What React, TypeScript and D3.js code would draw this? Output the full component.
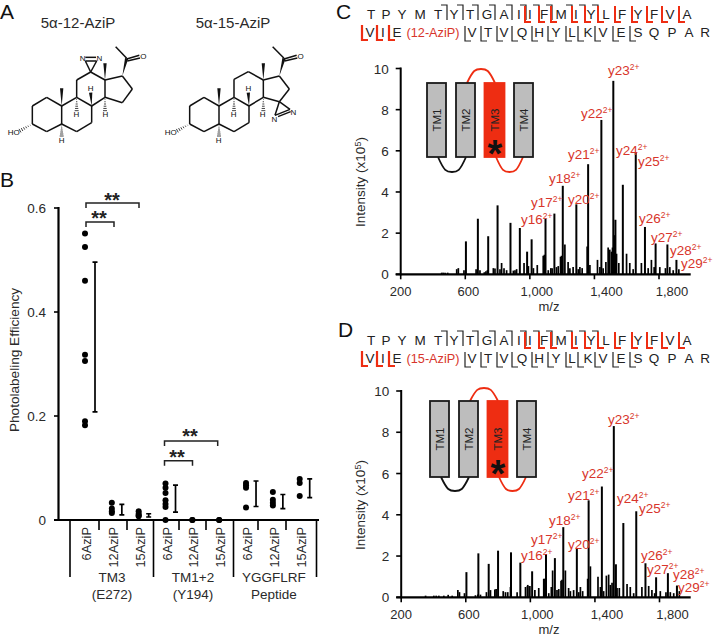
import React from "react";
import * as d3 from "d3";

// ---------- Panel B data ----------
const groupLabels = ["6AziP","12AziP","15AziP","6AziP","12AziP","15AziP","6AziP","12AziP","15AziP"];
const groupTitles = [["TM3","(E272)"],["TM1+2","(Y194)"],["YGGFLRF","Peptide"]];
const efficiency = [
  [0.551,0.525,0.46,0.318,0.306,0.19,0.182],
  [0.033,0.022,0.017,0.0135],
  [0.0167,0.012,0.009,0.007],
  [0.07,0.062,0.052,0.038,0.031,0.025,0],
  [0,0],
  [0,0],
  [0.071,0.067,0.062,0.024],
  [0.054,0.039,0.033,0.028],
  [0.079,0.071,0.046],
];
const errTop = [0.496,0.03,0.012,0.067,null,null,0.075,0.049,0.079];
const errBottom = [0.208,0.01,0.0058,0.015,null,null,0.026,0.022,0.043];

// ---------- Spectrum data: m/z, intensity ----------
const mainMz = [604,678,742,800,880,938,983,1011,1097,1152,1204,1288,1361,1443,1517,1530,1576,1656,1713,1779,1852,1908];
const mainC = [1.6,2.7,1.85,3.35,2.5,2.25,1.1,1.7,2.7,2.95,4.3,3.4,5.35,7.5,9.4,2.65,4.35,5.9,2.3,1.5,1.45,0.7];
const mainD = [1.22,2.13,1.62,2.26,2.18,1.68,0.55,1.26,2.1,1.9,3.4,2.35,4.7,5.37,8.3,1.6,3.6,4.17,1.65,0.97,1.17,0.57];
const minorC: [number,number][] = [[454,.08],[464,.08],[475,.08],[491,.08],[547,.25],[557,.3],[592,.2],[667,.25],[691,.2],[718,.1],[728,.15],[737,.2],[774,.3],[784,.28],[815,.25],[825,.55],[840,.3],[856,.2],[898,.18],[908,.2],[918,.25],[964,.55],[991,.4],[1022,.3],[1046,.45],[1083,.9],[1090,.95],[1114,.2],[1130,.3],[1138,.3],[1165,.35],[1176,.4],[1190,.85],[1196,.9],[1217,1.45],[1237,.6],[1248,.3],[1268,.35],[1300,.25],[1310,.35],[1324,.3],[1355,1.35],[1372,.45],[1419,.7],[1434,.35],[1454,.3],[1471,.6],[1485,1.3],[1495,1.2],[1506,1.1],[1512,1.3],[1524,1.9],[1537,1.0],[1551,.55],[1599,1.0],[1619,.55],[1640,.25],[1691,.55],[1733,.3],[1753,.7],[1770,.35],[1805,.35],[1840,.3],[1867,.35],[1888,.2],[1923,.25]];
const minorD: [number,number][] = [[351,.08],[402,.08],[417,.08],[433,.08],[464,.08],[491,.12],[516,.08],[551,.35],[561,.25],[592,.2],[660,.1],[675,.13],[691,.13],[728,.25],[753,.35],[780,.38],[788,.4],[832,.3],[846,.25],[860,.25],[877,.5],[918,.25],[970,.5],[984,.6],[997,.55],[1028,.35],[1052,.45],[1083,.9],[1090,.9],[1114,.2],[1130,.5],[1138,1.3],[1165,.35],[1176,.4],[1190,.8],[1196,.85],[1217,1.3],[1237,.45],[1248,.3],[1268,.35],[1300,.25],[1310,.5],[1324,.3],[1355,.9],[1372,1.5],[1419,1.0],[1434,.5],[1454,.3],[1471,1.05],[1485,1.1],[1495,.6],[1506,.7],[1537,.45],[1551,.45],[1599,.65],[1619,.5],[1640,.2],[1691,.5],[1733,.55],[1753,.35],[1770,.2],[1805,.3],[1840,.25],[1867,.25],[1888,.2],[1923,.3]];
const mzTicks = [200,600,1000,1400,1800];
const mzTickLabels = ["200","600","1,000","1,400","1,800"];
const mzLabelNudge = [0,3,7,12,13];
const intensityTicks = [0,2,4,6,8,10];

type Lab = [string,number,number];
const labelsC: Lab[] = [["y23",608,75],["y22",581,118],["y21",568,159],["y24",616,155],["y25",638,166],["y18",549,183],["y17",531,207],["y20",568,204],["y16",521,224],["y26",639,223],["y27",651,242],["y28",670,255],["y29",681,268]];
const labelsD: Lab[] = [["y23",608,424],["y22",582,478],["y21",568,500],["y24",617,503],["y25",639,513],["y18",549,525],["y17",531,544],["y20",568,549],["y16",521,560],["y26",641,560],["y27",647,574],["y28",673,579],["y29",678,592]];

// ---------- Sequence ----------
const seqRow1 = "TPYMTYTGAIIFMIYLFYFVA".split("");
const seqRow1X = [371,386,402,420,438,454,470,487,504,519,530,544,561,576,591,606,622,638,654,670,687];
const seqRow2a = "VIE".split("");
const seqRow2aX = [370,383,397];
const seqRow2b = "VTVQHYLKVESQPAR".split("");
const seqRow2bX = [472,488,504,522,539,556,572,588,603,621,638,654,672,689,705];
const topBlack = [447,463,478,495,512,526,539,552,572,585,598];
const topRed = [525,539,551,572,585,598,615,632,647,662,679];
const botRed = [362,377,389];
const botBlack = [465,481,497,512,532,548,566,578,595,613,630];

const RED = "#d8352b";
const BRIGHT = "#ee2d12";
const INK = "#2a2a2a";
const SANS = "'Liberation Sans', Arial, sans-serif";

// ---------- Chemical structures (image units: 1/3 px) ----------
type Seg = [number,number,number,number];
const sharedBonds: Seg[] = [[97,318,140,292],[140,292,185,318],[185,318,185,372],[185,372,140,395],[140,395,97,372],[97,372,97,318],[185,318,230,292],[230,292,275,318],[275,318,275,368],[275,368,230,395],[230,395,185,372]];
const bonds12: Seg[] = [[230,292,230,240],[230,240,272,216],[272,216,315,240],[315,240,315,292],[315,292,275,318],[315,240,367,228],[367,228,397,267],[397,267,367,308],[367,308,315,292],[380,175,347,140],[272,216,256,183],[272,216,290,183],[256,183,290,183],[256,172,288,172],[380,177,418,166],[382,183,420,174]];
const bonds15: Seg[] = [[230,292,230,238],[230,238,273,215],[273,215,318,240],[318,240,318,292],[318,292,275,318],[318,240,366,228],[366,228,396,267],[396,267,366,305],[366,305,318,292],[380,175,346,140],[366,305,398,328],[366,305,353,346],[353,346,398,328],[362,350,400,335],[380,177,418,166],[382,183,420,174]];
const wedges12: Seg[] = [[185,318,185,265],[315,240,315,190],[367,228,380,175],[275,318,272,278]];
const wedges15: Seg[] = [[185,318,185,265],[318,240,318,190],[366,228,380,175],[275,318,273,278]];
const hashes12: Seg[] = [[230,292,230,332],[315,292,315,332],[185,372,185,408],[97,372,60,392]];
const hashes15: Seg[] = [[230,292,230,332],[318,292,318,332],[185,372,185,408],[97,372,60,392]];
type Atom = [string,number,number];
const atoms12: Atom[] = [["HO",41,395],["H",185,420],["H",229,343],["H",272,265],["H",316,343],["N",248,173],["N",298,173],["O",430,168]];
const atoms15: Atom[] = [["HO",40,395],["H",184,420],["H",229,343],["H",273,265],["H",316,343],["N",351,358],["N",408,335],["O",430,168]];

function Molecule({dx,bonds,wedges,hashes,atoms}:{dx:number;bonds:Seg[];wedges:Seg[];hashes:Seg[];atoms:Atom[]}){
  const s=(v:number)=>v/3;
  const wedgePts=([x1,y1,x2,y2]:Seg,w:number)=>{
    const L=Math.hypot(x2-x1,y2-y1), nx=-(y2-y1)/L, ny=(x2-x1)/L;
    return {L,nx,ny,x1,y1,x2,y2,w};
  };
  return <g transform={`translate(${dx/3},0)`}>
    {[...sharedBonds,...bonds].map((b,i)=><line key={i} x1={s(b[0])} y1={s(b[1])} x2={s(b[2])} y2={s(b[3])} stroke="#111" strokeWidth={1.5}/>)}
    {wedges.map((b,i)=>{const g=wedgePts(b,5);return <polygon key={i} fill="#111" points={`${s(g.x1)},${s(g.y1)} ${s(g.x2+g.nx*g.w)},${s(g.y2+g.ny*g.w)} ${s(g.x2-g.nx*g.w)},${s(g.y2-g.ny*g.w)}`}/>;})}
    {hashes.map((b,i)=>{const g=wedgePts(b,6);return <g key={i}>{d3.range(1,7).map(k=>{const t=k/6;const cx=g.x1+(g.x2-g.x1)*t,cy=g.y1+(g.y2-g.y1)*t,h=g.w*t;return <line key={k} x1={s(cx+g.nx*h)} y1={s(cy+g.ny*h)} x2={s(cx-g.nx*h)} y2={s(cy-g.ny*h)} stroke="#111" strokeWidth={0.8}/>;})}</g>;})}
    {atoms.map((a,i)=><text key={i} x={s(a[1])} y={s(a[2])+3} textAnchor="middle" fontSize={8} fontFamily={SANS} fill="#111" >{a[0]}</text>)}
  </g>;
}

function Sequence({dy,tag}:{dy:number;tag:string}){
  const T={fontFamily:SANS,fontSize:13.5,fill:"#222",textAnchor:"middle" as const};
  return <g transform={`translate(0,${dy})`}>
    {seqRow1.map((c,i)=><text key={i} x={seqRow1X[i]} y={19} {...T}>{c}</text>)}
    {seqRow2a.map((c,i)=><text key={i} x={seqRow2aX[i]} y={37} {...T}>{c}</text>)}
    <text x={433} y={37} textAnchor="middle" fontFamily={SANS} fontSize={12.7} fill={RED}>{tag}</text>
    {seqRow2b.map((c,i)=><text key={i} x={seqRow2bX[i]} y={37} {...T}>{c}</text>)}
    {topBlack.map((x,i)=><path key={i} d={`M${x-6},5H${x}V20`} fill="none" stroke="#222" strokeWidth={1.2}/>)}
    {topRed.map((x,i)=><path key={i} d={`M${x},6V22H${x+6}`} fill="none" stroke={BRIGHT} strokeWidth={2}/>)}
    {botBlack.map((x,i)=><path key={i} d={`M${x},26V41H${x+6}`} fill="none" stroke="#222" strokeWidth={1.2}/>)}
    {botRed.map((x,i)=><path key={i} d={`M${x},25V40H${x+6}`} fill="none" stroke={BRIGHT} strokeWidth={2.2}/>)}
  </g>;
}

function Topology({x0,top,bottom,loopTop,loopBottom}:{x0:number;top:number;bottom:number;loopTop:number;loopBottom:number}){
  const boxes=[["TM1",0],["TM2",29],["TM3",57.5],["TM4",87]] as [string,number][];
  const bx=(o:number)=>x0+o;
  const my=(top+bottom)/2;
  const loop=(a:number,b:number,yStart:number,yEnd:number,c:string)=>{
    const m=(a+b)/2, w=(b-a)/2;
    return <path d={`M${a},${yStart}C${a+w*0.45},${yEnd+(yStart-yEnd)*0.05} ${m-w*0.4},${yEnd} ${m},${yEnd}C${m+w*0.4},${yEnd} ${b-w*0.45},${yEnd+(yStart-yEnd)*0.05} ${b},${yStart}`} fill="none" stroke={c} strokeWidth={1.8}/>;
  };
  return <g>
    {loop(bx(40),bx(68),top,loopTop,BRIGHT)}
    {loop(bx(11),bx(39),bottom,loopBottom,"#111")}
    {loop(bx(69),bx(96),bottom,loopBottom,BRIGHT)}
    {boxes.map(([t,o])=><g key={t}>
      <rect x={bx(o)} y={top} width={t==="TM3"?20:19} height={bottom-top} fill={t==="TM3"?BRIGHT:"#bdbdbd"} stroke={t==="TM3"?BRIGHT:"#1a1a1a"} strokeWidth={1.8}/>
      <text transform={`translate(${bx(o)+(t==="TM3"?14.5:14)},${my}) rotate(-90)`} textAnchor="middle" fontFamily={SANS} fontSize={11.5} fill="#222">{t}</text>
    </g>)}
    <text x={bx(68)} y={bottom+9.5} textAnchor="middle" fontFamily={SANS} fontWeight="bold" fontSize={38} fill="#111">*</text>
  </g>;
}

function Spectrum({y0,y10,xLabelY,titleY,main,minor,labels,xShift}:{y0:number;y10:number;xLabelY:number;titleY:number;main:number[];minor:[number,number][];labels:Lab[];xShift:number}){
  const x=d3.scaleLinear().domain([200,1800]).range([400.7+xShift,659+xShift]);
  const y=d3.scaleLinear().domain([0,10]).range([y0,y10]);
  const axisEnd=690.7;
  return <g>
    {minor.map(([m,v],i)=><line key={"m"+i} x1={x(m)} x2={x(m)} y1={y0} y2={y(v)} stroke="#000" strokeWidth={1.7}/>)}
    {main.map((v,i)=><line key={"p"+i} x1={x(mainMz[i])} x2={x(mainMz[i])} y1={y0} y2={y(v)} stroke="#000" strokeWidth={2}/>)}
    <line x1={x(200)} x2={x(200)} y1={y(10)-1} y2={y0+1} stroke="#000" strokeWidth={2}/>
    <line x1={x(200)-5} x2={axisEnd} y1={y0} y2={y0} stroke="#000" strokeWidth={2.2}/>
    {intensityTicks.map(t=><g key={t}>
      <line x1={x(200)-5} x2={x(200)} y1={y(t)} y2={y(t)} stroke="#000" strokeWidth={1.6}/>
      <text x={x(200)-12} y={y(t)+5} textAnchor="end" fontFamily={SANS} fontSize={13.5} fill={INK}>{t}</text>
    </g>)}
    {mzTicks.map((t,i)=><g key={t}>
      <line x1={x(t)} x2={x(t)} y1={y0} y2={y0+5} stroke="#000" strokeWidth={1.6}/>
      <text x={x(t)+mzLabelNudge[i]} y={y0+22} textAnchor="middle" fontFamily={SANS} fontSize={13} fill={INK}>{mzTickLabels[i]}</text>
    </g>)}
    <text x={549} y={xLabelY} textAnchor="middle" fontFamily={SANS} fontSize={13} fill={INK}>m/z</text>
    <text transform={`translate(365,${titleY}) rotate(-90)`} textAnchor="middle" fontFamily={SANS} fontSize={13.5} fill={INK}>Intensity (x10<tspan dy={-4} fontSize={9}>5</tspan><tspan dy={4}>)</tspan></text>
    {labels.map(([t,lx,ly])=><text key={t} x={lx} y={ly} fontFamily={SANS} fontSize={13.5} fill={RED}>{t}<tspan dy={-5} fontSize={8.5}>2+</tspan></text>)}
  </g>;
}

function Stars({x,y}:{x:number;y:number}){
  return <text x={x} y={y+11} textAnchor="middle" fontFamily={SANS} fontSize={20} fontWeight="bold" fill="#222">**</text>;
}

function PanelB(){
  const y=d3.scaleLinear().domain([0,0.6]).range([520,208]);
  const x=d3.scaleLinear().domain([0,8]).range([85,299.7]);
  const dividers=[70,153.5,233.5,316.5];
  const minorTicks=[99,127,179,206,258,286];
  const groupX=[112,193,274];
  const bracket=(a:number,b:number,yy:number,h:number)=>`M${a},${yy+h}V${yy}H${b}V${yy+h}`;
  return <g>
    <line x1={58.5} x2={58.5} y1={207} y2={520} stroke="#000" strokeWidth={2.2}/>
    <line x1={54} x2={319} y1={520} y2={520} stroke="#000" strokeWidth={2.2}/>
    {[0,0.2,0.4,0.6].map(t=><g key={t}>
      <line x1={54} x2={58.5} y1={y(t)} y2={y(t)} stroke="#000" strokeWidth={1.6}/>
      <text x={46} y={y(t)+5} textAnchor="end" fontFamily={SANS} fontSize={13.5} fill={INK}>{t}</text>
    </g>)}
    <text transform="translate(19,360) rotate(-90)" textAnchor="middle" fontFamily={SANS} fontSize={13.6} fill={INK}>Photolabeling Efficiency</text>
    {dividers.map(d=><line key={d} x1={d} x2={d} y1={520} y2={577} stroke="#000" strokeWidth={1.6}/>)}
    {minorTicks.map(d=><line key={d} x1={d} x2={d} y1={520} y2={530} stroke="#000" strokeWidth={1.6}/>)}
    {groupLabels.map((l,i)=><text key={i} transform={`translate(${x(i)+6},527) rotate(-90)`} textAnchor="end" fontFamily={SANS} fontSize={12.8} fill={INK}>{l}</text>)}
    {groupTitles.map((g,i)=><g key={i}>
      <text x={groupX[i]} y={582} textAnchor="middle" fontFamily={SANS} fontSize={13.5} fill={INK}>{g[0]}</text>
      <text x={groupX[i]} y={599} textAnchor="middle" fontFamily={SANS} fontSize={13.5} fill={INK}>{g[1]}</text>
    </g>)}
    {efficiency.map((vals,i)=><g key={i}>
      {vals.map((v,j)=><circle key={j} cx={x(i)} cy={y(v)} r={3} fill="#000"/>)}
      {errTop[i]!==null&&<path d={`M${x(i)+7.5},${y(errTop[i]!)}h5M${x(i)+10},${y(errTop[i]!)}V${y(errBottom[i]!)}M${x(i)+7.5},${y(errBottom[i]!)}h5`} fill="none" stroke="#000" strokeWidth={1.7}/>}
    </g>)}
    <path d={bracket(86,139,203,5)} fill="none" stroke="#222" strokeWidth={1.5}/>
    <path d={bracket(86,114,222,5)} fill="none" stroke="#222" strokeWidth={1.5}/>
    <path d={bracket(164.5,217.7,441,5)} fill="none" stroke="#222" strokeWidth={1.5}/>
    <path d={bracket(164.5,192.5,460.7,5)} fill="none" stroke="#222" strokeWidth={1.5}/>
    <Stars x={112} y={196}/>
    <Stars x={99} y={214}/>
    <Stars x={190} y={432}/>
    <Stars x={177} y={453}/>
  </g>;
}

export default function App(){
  const P={fontFamily:SANS,fontSize:21,fill:"#111"};
  return <svg width={713} height={637} viewBox="0 0 713 637" style={{position:"absolute",left:0,top:0,background:"#fff"}}>
    <text x={0} y={19} {...P}>A</text>
    <text x={0} y={187} {...P}>B</text>
    <text x={336} y={19} {...P}>C</text>
    <text x={338} y={337} {...P}>D</text>
    <text x={78} y={28} textAnchor="middle" fontFamily={SANS} fontSize={15} fill={INK}>5α-12-AziP</text>
    <text x={233} y={28} textAnchor="middle" fontFamily={SANS} fontSize={15} fill={INK}>5α-15-AziP</text>
    <Molecule dx={0} bonds={bonds12} wedges={wedges12} hashes={hashes12} atoms={atoms12}/>
    <Molecule dx={472} bonds={bonds15} wedges={wedges15} hashes={hashes15} atoms={atoms15}/>
    <PanelB/>
    <Sequence dy={0} tag="(12-AziP)"/>
    <Sequence dy={326} tag="(15-AziP)"/>
    <Spectrum y0={274.3} y10={68.5} xLabelY={311} titleY={182} main={mainC} minor={minorC} labels={labelsC} xShift={0}/>
    <Spectrum y0={597.3} y10={391} xLabelY={634} titleY={505} main={mainD} minor={minorD} labels={labelsD} xShift={0.5}/>
    <Topology x0={427} top={83} bottom={157} loopTop={69} loopBottom={172}/>
    <Topology x0={430} top={401} bottom={477} loopTop={388} loopBottom={491}/>
  </svg>;
}
